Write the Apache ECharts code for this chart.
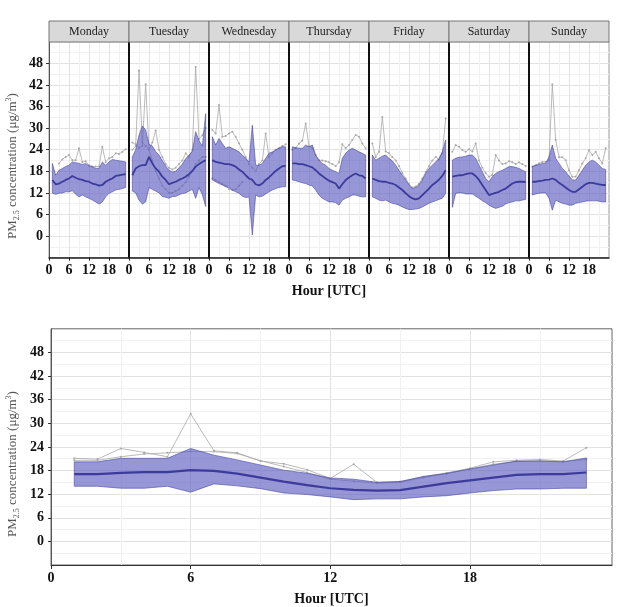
<!DOCTYPE html>
<html>
<head>
<meta charset="utf-8">
<script src="https://cdn.jsdelivr.net/npm/echarts@6/dist/echarts.min.js"></script>
<style>
  html, body { margin: 0; padding: 0; background: #fff; }
  #main { width: 617px; height: 607px; }
</style>
</head>
<body>
<div id="main"></div>
<script>
var hours = [1, 2, 3, 4, 5, 6, 7, 8, 9, 10, 11, 12, 13, 14, 15, 16, 17, 18, 19, 20, 21, 22, 23];
var days = ['Monday', 'Tuesday', 'Wednesday', 'Thursday', 'Friday', 'Saturday', 'Sunday'];
var xTicks = [0, 6, 12, 18];
var yTicks = [0, 6, 12, 18, 24, 30, 36, 42, 48];

// per weekday: mean, band upper / lower, and the odd days that stick out
var monMean  = [15.6, 14.4, 14.6, 15.1, 15.6, 16.0, 16.7, 16.2, 15.8, 15.6, 15.3, 15.1, 14.6, 14.4, 14.0, 14.2, 15.1, 15.6, 16.0, 16.7, 16.9, 17.1, 17.2];
var monUpper = [20.2, 16.9, 18.3, 18.8, 19.3, 19.7, 20.6, 20.4, 20.2, 19.9, 20.2, 19.5, 19.3, 18.8, 18.8, 20.6, 19.7, 20.6, 21.3, 21.1, 20.9, 20.8, 20.6];
var monLower = [11.9, 11.6, 11.9, 12.0, 12.3, 12.3, 12.6, 11.6, 10.9, 11.4, 10.9, 10.5, 10.0, 9.5, 8.9, 9.5, 10.9, 11.9, 12.3, 12.8, 13.0, 13.2, 13.5];
var monGrey1 = [null, null, 20.2, 21.3, 22.0, 22.5, 21.1, 21.1, 24.4, 20.6, 20.8, 19.7, 19.3, 19.3, 19.3, 24.8, 20.6, 21.6, 22.0, 23.0, 22.8, 23.4, 24.1];

var tueMean  = [16.9, 18.8, 19.4, 19.7, 19.7, 22.0, 20.2, 18.8, 17.9, 16.5, 15.6, 14.4, 14.8, 15.1, 15.6, 16.0, 16.5, 17.2, 18.1, 19.3, 20.0, 20.6, 21.1];
var tueUpper = [22.0, 24.0, 28.0, 30.6, 29.5, 25.5, 25.0, 23.5, 22.5, 21.0, 19.5, 18.3, 17.8, 18.0, 19.0, 20.0, 21.5, 22.5, 23.5, 29.0, 26.5, 25.0, 34.0];
var tueLower = [12.5, 12.0, 10.0, 8.9, 9.5, 13.5, 13.0, 12.5, 12.0, 11.0, 10.8, 10.5, 11.0, 11.0, 11.5, 11.8, 12.0, 12.5, 13.0, 10.5, 13.5, 11.5, 8.2];
var tueGrey1 = [24.0, 25.0, 46.0, 26.0, 25.0, 24.0, 26.0, 29.3, 24.0, 22.0, 20.0, 19.0, 18.5, 19.0, 20.0, 21.0, 23.0, 22.0, 24.0, 47.0, 27.0, 28.0, 30.0];
var tueGrey2 = [26.0, 25.5, 24.5, 25.0, 42.2, 24.0, 21.0, 18.0, 16.0, 14.0, 13.0, 12.0, 12.0, 12.5, 13.0, 14.0, 15.0, 16.5, 18.0, 20.0, 21.0, 22.0, 22.0];

var wedMean  = [21.1, 20.6, 20.4, 20.2, 20.0, 20.0, 19.7, 19.3, 18.5, 17.9, 16.9, 16.0, 15.6, 14.4, 14.1, 14.6, 15.6, 16.3, 17.2, 18.1, 18.8, 19.4, 19.5];
var wedUpper = [27.6, 25.3, 27.1, 25.7, 24.4, 24.8, 24.4, 23.9, 23.4, 22.5, 21.6, 20.6, 30.8, 19.7, 19.7, 20.2, 21.6, 23.0, 23.4, 23.9, 24.4, 24.8, 24.8];
var wedLower = [15.6, 15.1, 14.6, 14.2, 13.7, 13.5, 12.8, 12.3, 11.9, 11.1, 10.7, 10.9, 0.3, 11.4, 10.9, 11.1, 11.7, 12.3, 12.8, 13.2, 13.5, 13.7, 13.7];
var wedGrey1 = [29.5, 28.5, 36.4, 27.6, 27.8, 28.5, 29.0, 27.6, 25.7, 24.0, 22.0, 20.0, 19.0, 18.0, 20.0, 21.0, 28.5, 22.0, 23.0, 24.0, 24.5, 25.0, 25.5];
var wedGrey2 = [16.0, 15.5, 15.0, 14.5, 14.0, 13.0, 12.8, 13.0, 14.0, 15.0, null, null, null, null, null, null, null, null, null, null, null, null, null];

var thuMean  = [20.2, 20.2, 20.0, 20.0, 19.7, 19.4, 19.1, 18.3, 17.4, 16.7, 16.0, 15.4, 15.0, 14.6, 13.2, 14.4, 15.6, 16.3, 16.9, 17.4, 16.9, 16.7, 16.0];
var thuUpper = [24.8, 24.6, 24.4, 24.4, 25.3, 24.8, 25.3, 22.5, 21.1, 20.2, 19.7, 18.8, 18.3, 17.9, 17.4, 21.6, 23.0, 23.9, 24.4, 23.9, 23.4, 23.0, 22.5];
var thuLower = [15.6, 15.4, 15.1, 14.8, 14.6, 14.2, 13.9, 12.8, 11.4, 10.5, 10.0, 9.5, 9.5, 9.3, 8.6, 10.0, 10.5, 10.9, 11.4, 11.4, 11.1, 10.9, 10.9];
var thuGrey1 = [24.0, 24.5, 25.7, 26.5, 31.3, 25.0, 24.5, 22.5, 21.1, 21.0, 20.8, 20.5, 20.0, 19.5, 20.5, 25.5, 24.4, 25.3, 26.7, 28.1, 27.6, 25.7, 24.4];

var friMean  = [16.0, 15.6, 15.3, 15.1, 15.1, 14.8, 14.6, 14.2, 13.5, 12.8, 11.9, 11.1, 10.5, 10.2, 10.5, 11.4, 12.3, 13.2, 14.2, 14.9, 15.7, 16.7, 18.3];
var friUpper = [22.5, 21.1, 21.6, 22.2, 22.5, 21.6, 20.9, 19.7, 18.3, 16.9, 15.6, 14.2, 13.2, 13.5, 14.2, 15.6, 17.4, 18.8, 19.7, 20.6, 21.6, 23.4, 26.7];
var friLower = [10.9, 10.5, 10.0, 9.8, 10.0, 9.5, 9.1, 8.9, 8.6, 8.1, 7.7, 7.4, 7.4, 7.5, 7.7, 8.1, 8.6, 9.1, 9.5, 9.8, 10.2, 10.5, 11.9];
var friGrey1 = [25.7, 22.0, 23.4, 33.1, 23.5, 23.0, 22.0, 21.0, 19.5, 17.5, 16.0, 14.5, 13.5, 13.8, 14.5, 16.0, 17.8, 19.5, 21.0, 22.0, 21.2, 23.0, 32.7];

var satMean  = [16.5, 16.7, 16.9, 16.9, 17.2, 17.4, 17.4, 16.7, 15.6, 14.2, 12.8, 11.4, 11.7, 12.0, 12.3, 12.8, 13.2, 13.9, 14.6, 15.0, 15.1, 15.1, 15.0];
var satUpper = [21.1, 21.6, 21.9, 22.0, 22.2, 22.5, 22.5, 21.6, 19.7, 17.9, 16.0, 15.1, 16.5, 17.4, 17.9, 18.3, 18.8, 19.3, 19.3, 19.1, 18.8, 18.3, 17.9];
var satLower = [8.0, 11.9, 12.0, 12.0, 11.7, 11.7, 11.7, 11.1, 10.5, 9.8, 9.3, 8.6, 8.1, 7.7, 8.0, 8.3, 8.9, 9.3, 9.5, 9.8, 9.8, 10.0, 10.2];
var satGrey1 = [23.4, 25.3, 24.8, 23.9, 23.4, 24.1, 23.5, 25.7, 21.0, 19.0, 17.5, 16.5, 17.0, 22.5, 21.0, 20.0, 20.2, 20.8, 20.5, 20.0, 20.5, 20.0, 19.5];

var sunMean  = [15.1, 15.1, 15.3, 15.4, 15.6, 15.7, 16.0, 15.6, 14.8, 14.2, 13.5, 12.8, 12.3, 12.3, 13.0, 13.7, 14.4, 14.8, 14.8, 14.6, 14.4, 14.2, 14.2];
var sunUpper = [19.3, 19.7, 19.9, 20.2, 20.2, 22.0, 25.3, 21.6, 20.2, 18.8, 17.9, 16.7, 15.6, 15.6, 16.9, 18.3, 19.7, 20.6, 21.1, 20.6, 19.7, 18.8, 18.5];
var sunLower = [11.4, 11.7, 11.9, 12.0, 12.0, 10.5, 7.2, 10.0, 9.5, 9.1, 8.9, 8.6, 8.6, 9.1, 9.3, 9.5, 9.7, 9.8, 9.8, 9.8, 9.7, 9.5, 9.5];
var sunGrey1 = [19.3, 19.7, 20.2, 20.6, 20.6, 21.1, 42.2, 26.7, 21.9, 21.9, 21.1, 18.3, 16.5, 16.5, 18.3, 20.2, 21.6, 23.9, 22.5, 23.4, 21.6, 20.2, 24.4];

// all days together (lower chart)
var allMean  = [17.1, 17.1, 17.4, 17.6, 17.6, 18.1, 17.9, 17.2, 16.2, 15.2, 14.3, 13.5, 13.1, 12.9, 13.0, 13.9, 14.8, 15.5, 16.2, 16.9, 17.1, 17.1, 17.5];
var allUpper = [20.2, 20.2, 21.1, 21.1, 21.1, 23.6, 21.9, 20.7, 19.4, 18.1, 17.3, 16.1, 15.8, 15.0, 15.2, 16.5, 17.3, 18.4, 19.4, 20.4, 20.4, 20.2, 21.2];
var allLower = [14.0, 14.0, 13.5, 13.5, 14.0, 12.5, 14.6, 14.1, 13.4, 12.3, 11.9, 11.3, 10.6, 10.8, 10.8, 11.3, 11.6, 12.3, 12.9, 13.3, 13.3, 13.5, 13.5];
var allGrey1 = [21.1, 20.9, 23.6, 22.6, 21.5, 32.4, 23.0, 22.5, 20.4, 19.7, 18.2, 16.0, 19.6, 15.0, 15.2, 16.4, 17.4, 18.6, 20.2, 20.6, 20.8, 20.4, 23.8];
var allGrey2 = [20.6, 20.6, 21.5, 22.2, 22.5, 22.8, 22.8, 22.3, 20.5, 19.0, 17.5, 15.8, 15.3, 14.8, 15.0, 16.2, 17.2, 18.4, 19.6, 20.3, 20.5, 20.3, 20.8];

var panels = [
    {mean: monMean, upper: monUpper, lower: monLower, greys: [monGrey1]},
    {mean: tueMean, upper: tueUpper, lower: tueLower, greys: [tueGrey1, tueGrey2]},
    {mean: wedMean, upper: wedUpper, lower: wedLower, greys: [wedGrey1, wedGrey2]},
    {mean: thuMean, upper: thuUpper, lower: thuLower, greys: [thuGrey1]},
    {mean: friMean, upper: friUpper, lower: friLower, greys: [friGrey1]},
    {mean: satMean, upper: satUpper, lower: satLower, greys: [satGrey1]},
    {mean: sunMean, upper: sunUpper, lower: sunLower, greys: [sunGrey1]},
    {mean: allMean, upper: allUpper, lower: allLower, greys: [allGrey1, allGrey2]}
];

var serif = 'Liberation Serif';
var bandFill = 'rgba(92, 92, 192, 0.64)';
var bandEdge = 'rgba(70, 70, 160, 0.85)';
var meanColor = '#3b3b9c';
var greyColor = '#a8a8a8';

function pairs(ys) {
    return hours.map(function (h, i) { return [h, ys[i]]; });
}

// ribbon between lower and upper, drawn as one polygon through the axes
function bandRender(d) {
    return function (params, api) {
        if (params.dataIndex !== 0) return null;
        var pts = [];
        for (var j = 0; j < hours.length; j++) pts.push(api.coord([hours[j], d.upper[j]]));
        for (var k = hours.length - 1; k >= 0; k--) pts.push(api.coord([hours[k], d.lower[k]]));
        return {
            type: 'polygon', shape: {points: pts},
            style: {fill: bandFill, stroke: bandEdge, lineWidth: 0.7}
        };
    };
}

var grids = [], xAxes = [], yAxes = [], series = [], graphics = [];

var gridLine = {lineStyle: {color: '#e2e2e2', width: 1}};
var minorLine = {show: true, lineStyle: {color: '#f1f1f1', width: 1}};
var tickFont = {fontFamily: serif, fontWeight: 'bold', fontSize: 14, color: '#111'};

function labelStyle(extra) {
    var o = {fontFamily: tickFont.fontFamily, fontWeight: tickFont.fontWeight, fontSize: tickFont.fontSize, color: tickFont.color};
    for (var k in extra) o[k] = extra[k];
    return o;
}

// seven weekday facets
for (var p = 0; p < 7; p++) {
    var left = 49 + 80 * p;
    grids.push({left: left, top: 41.7, width: 80, height: 216, show: true, borderColor: '#999', borderWidth: 1});
    xAxes.push({
        type: 'value', gridIndex: p, min: 0, max: 24, interval: 6,
        axisLine: {show: true, onZero: false, lineStyle: {color: '#222', width: 1.5}},
        axisTick: {show: true, length: 3, customValues: xTicks, lineStyle: {color: '#222'}},
        axisLabel: labelStyle({customValues: xTicks, margin: 6}),
        splitLine: gridLine,
        minorTick: {show: false, splitNumber: 2},
        minorSplitLine: minorLine,
        name: p === 3 ? 'Hour [UTC]' : '',
        nameLocation: 'middle', nameGap: 27,
        nameTextStyle: {fontFamily: serif, fontWeight: 'bold', fontSize: 14, color: '#111'}
    });
    yAxes.push({
        type: 'value', gridIndex: p, min: -6, max: 54, interval: 6,
        axisLine: {show: true, onZero: false, lineStyle: {color: p === 0 ? '#555' : '#111', width: p === 0 ? 1 : 2}},
        axisTick: {show: p === 0, length: 3, customValues: yTicks, lineStyle: {color: '#333'}},
        axisLabel: labelStyle({show: p === 0, customValues: yTicks, margin: 6}),
        splitLine: gridLine,
        minorTick: {show: false, splitNumber: 2},
        minorSplitLine: minorLine
    });
    graphics.push({
        type: 'rect', shape: {x: left, y: 21, width: 80, height: 21},
        style: {fill: '#d9d9d9', stroke: '#777', lineWidth: 1}, z: 10
    });
    graphics.push({
        type: 'text', x: left + 40, y: 31.5, z: 11,
        style: {text: days[p], fill: '#222', font: '12px "Liberation Serif"', align: 'center', verticalAlign: 'middle'}
    });
}

// all-days panel
grids.push({left: 51, top: 328.8, width: 561, height: 239.2, show: true, borderColor: '#666', borderWidth: 1});
xAxes.push({
    type: 'value', gridIndex: 7, min: 0, max: 24.1, interval: 6,
    axisLine: {show: true, onZero: false, lineStyle: {color: '#333', width: 1.2}},
    axisTick: {show: true, length: 4, customValues: xTicks, lineStyle: {color: '#333'}},
    axisLabel: labelStyle({customValues: xTicks, margin: 6}),
    splitLine: gridLine,
    minorTick: {show: false, splitNumber: 2},
    minorSplitLine: minorLine,
    name: 'Hour [UTC]', nameLocation: 'middle', nameGap: 27,
    nameTextStyle: {fontFamily: serif, fontWeight: 'bold', fontSize: 14, color: '#111'}
});
yAxes.push({
    type: 'value', gridIndex: 7, min: -6, max: 54, interval: 6,
    axisLine: {show: true, onZero: false, lineStyle: {color: '#555', width: 1}},
    axisTick: {show: true, length: 3, customValues: yTicks, lineStyle: {color: '#333'}},
    axisLabel: labelStyle({customValues: yTicks, margin: 7}),
    splitLine: gridLine,
    minorTick: {show: false, splitNumber: 2},
    minorSplitLine: minorLine
});

panels.forEach(function (d, i) {
    var big = i === 7;
    d.greys.forEach(function (g) {
        series.push({
            type: 'line', xAxisIndex: i, yAxisIndex: i, data: pairs(g), silent: true, z: 2,
            symbol: 'circle', symbolSize: 2, showSymbol: true,
            lineStyle: {color: greyColor, width: 0.8}, itemStyle: {color: greyColor}
        });
    });
    series.push({
        type: 'custom', xAxisIndex: i, yAxisIndex: i, silent: true, z: 3, clip: true,
        data: hours.map(function (h, j) { return [h, d.lower[j], d.upper[j]]; }),
        encode: {x: 0, y: [1, 2]},
        renderItem: bandRender(d)
    });
    series.push({
        type: 'line', xAxisIndex: i, yAxisIndex: i, data: pairs(d.mean), silent: true, z: 4,
        symbol: 'none', lineStyle: {color: meanColor, width: big ? 2.2 : 1.8}
    });
});

// y axis titles with sub/superscript
var yTitleRich = {
    n: {fontFamily: serif, fontSize: 13, fill: '#555', lineHeight: 16},
    s: {fontFamily: serif, fontSize: 8, fill: '#555', verticalAlign: 'bottom', lineHeight: 16},
    p: {fontFamily: serif, fontSize: 8, fill: '#555', verticalAlign: 'top', lineHeight: 16}
};
var yTitle = '{n|PM}{s|2.5}{n| concentration (μg/m}{p|3}{n|)}';
graphics.push({type: 'text', x: 13, y: 166, rotation: Math.PI / 2, z: 11,
    style: {text: yTitle, rich: yTitleRich, align: 'center', verticalAlign: 'middle', fill: '#555'}});
graphics.push({type: 'text', x: 13, y: 464, rotation: Math.PI / 2, z: 11,
    style: {text: yTitle, rich: yTitleRich, align: 'center', verticalAlign: 'middle', fill: '#555'}});

var chart = echarts.init(document.getElementById('main'));
chart.setOption({
    animation: false,
    backgroundColor: '#fff',
    grid: grids,
    xAxis: xAxes,
    yAxis: yAxes,
    series: series,
    graphic: graphics
});
</script>
</body>
</html>
